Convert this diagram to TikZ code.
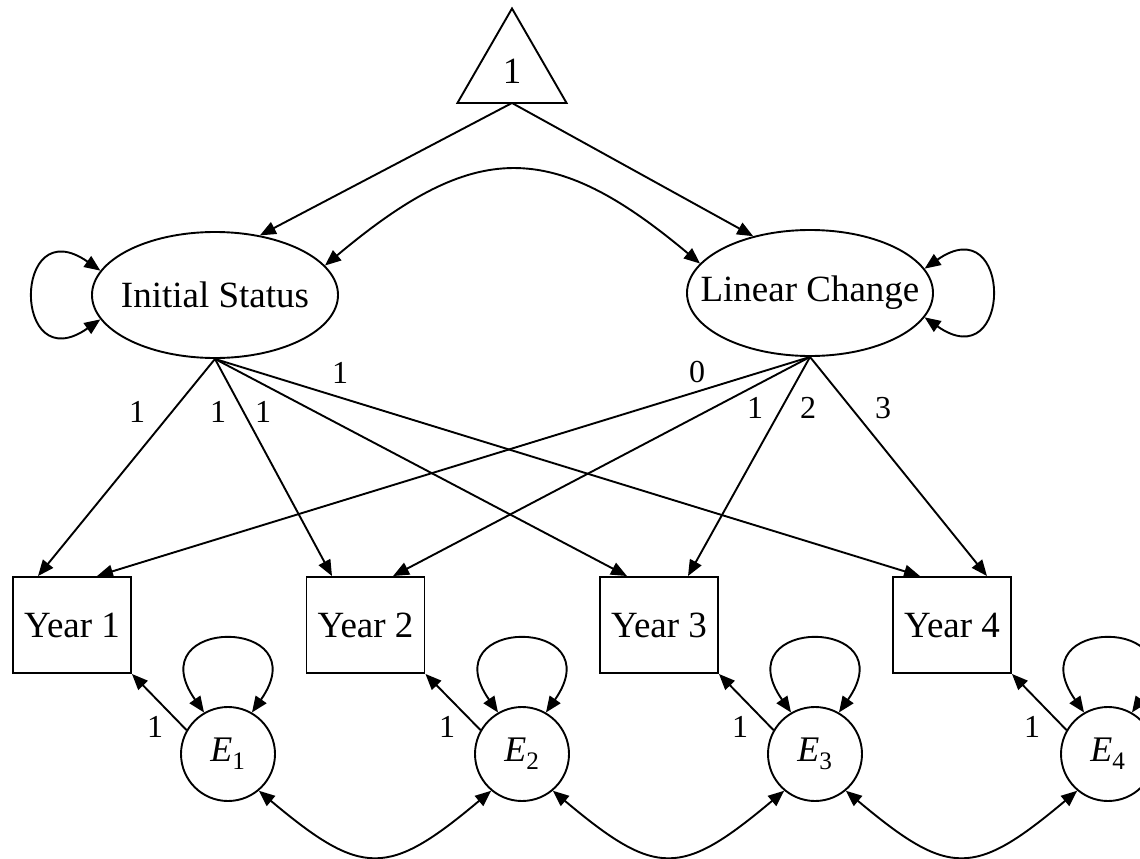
\documentclass[tikz,border=0pt]{standalone}
\usepackage{fontspec}
\setmainfont{Liberation Serif}
\usetikzlibrary{arrows.meta,shapes.geometric,calc}
\begin{document}
\begin{tikzpicture}[x=1pt,y=1pt,
  line width=1.9pt,
  >={Triangle[length=16pt,width=13pt]},
  lat/.style={ellipse,draw,minimum width=246pt,minimum height=126pt,inner sep=0pt,font=\fontsize{37}{40}\selectfont},
  obs/.style={rectangle,draw,minimum width=118pt,minimum height=96pt,inner sep=0pt,font=\fontsize{37}{40}\selectfont},
  err/.style={circle,draw,minimum size=94pt,inner sep=0pt,font=\fontsize{36}{40}\selectfont},
  const/.style={regular polygon,regular polygon sides=3,draw,minimum size=126pt,inner sep=0pt,outer sep=0pt,font=\fontsize{37}{40}\selectfont},
  lbl/.style={font=\fontsize{32}{36}\selectfont,inner sep=0pt}
]
\useasboundingbox (0,-859) rectangle (1140,0);

% nodes
\node[const] (tri) at (512,-71.5) {1};
\node[lat] (IS) at (215,-295) {\makebox[0pt]{Initial Status}};
\node[lat] (LC) at (810,-293) {\makebox[0pt]{Linear Change}};
\node[obs] (Y1) at (72,-625) {Year 1};
\node[obs] (Y2) at (365.5,-625) {Year 2};
\node[obs] (Y3) at (659,-625) {Year 3};
\node[obs] (Y4) at (952,-625) {Year 4};
\node[err] (E1) at (228,-754) {{\itshape E}\textsubscript{1}};
\node[err] (E2) at (522,-754) {{\itshape E}\textsubscript{2}};
\node[err] (E3) at (815,-754) {{\itshape E}\textsubscript{3}};
\node[err] (E4) at (1108,-754) {{\itshape E}\textsubscript{4}};

% constant to latent factors
\draw[->] (tri.south) -- (IS.53);
\draw[->] (tri.south) -- (LC.135);

% latent covariance and variances
\draw[<->] (IS.15) .. controls +(40:195pt) and +(140:195pt) .. (LC.165);
\draw[<->] (IS.168) .. controls +(145:108pt) and +(215:108pt) .. (IS.192);
\draw[<->] (LC.12) .. controls +(35:108pt) and +(-35:108pt) .. (LC.-12);

% loadings
\draw[->] (IS.south) -- ($(Y1.north)+(-34,0)$);
\draw[->] (IS.south) -- ($(Y2.north)+(-33.5,0)$);
\draw[->] (IS.south) -- ($(Y3.north)+(-32,0)$);
\draw[->] (IS.south) -- ($(Y4.north)+(-32,0)$);
\draw[->] (LC.south) -- ($(Y1.north)+(25,0)$);
\draw[->] (LC.south) -- ($(Y2.north)+(27.5,0)$);
\draw[->] (LC.south) -- ($(Y3.north)+(29,0)$);
\draw[->] (LC.south) -- ($(Y4.north)+(35,0)$);

\node[lbl] (a1) at (137,-412) {1};
\node[lbl] (a2) at (218,-412) {1};
\node[lbl] (a3) at (263,-412) {1};
\node[lbl] (a4) at (340,-373) {1};
\node[lbl] (b1) at (697,-372) {0};
\node[lbl] (b2) at (755,-408) {1};
\node[lbl] (b3) at (808,-408) {2};
\node[lbl] (b4) at (883,-408) {3};

% errors
\foreach \i in {1,2,3,4}{
  \draw[->] (E\i.150) -- (Y\i.south east);
  \draw[<->] (E\i.120) .. controls +(125:118pt) and +(55:118pt) .. (E\i.60);
}
\node[lbl] (c1) at (155,-727) {1};
\node[lbl] (c2) at (447,-727) {1};
\node[lbl] (c3) at (740,-727) {1};
\node[lbl] (c4) at (1032,-727) {1};

\draw[<->] (E1.-50) .. controls +(-40:135pt) and +(-140:135pt) .. (E2.-130);
\draw[<->] (E2.-50) .. controls +(-40:135pt) and +(-140:135pt) .. (E3.-130);
\draw[<->] (E3.-50) .. controls +(-40:135pt) and +(-140:135pt) .. (E4.-130);
\end{tikzpicture}
\end{document}
